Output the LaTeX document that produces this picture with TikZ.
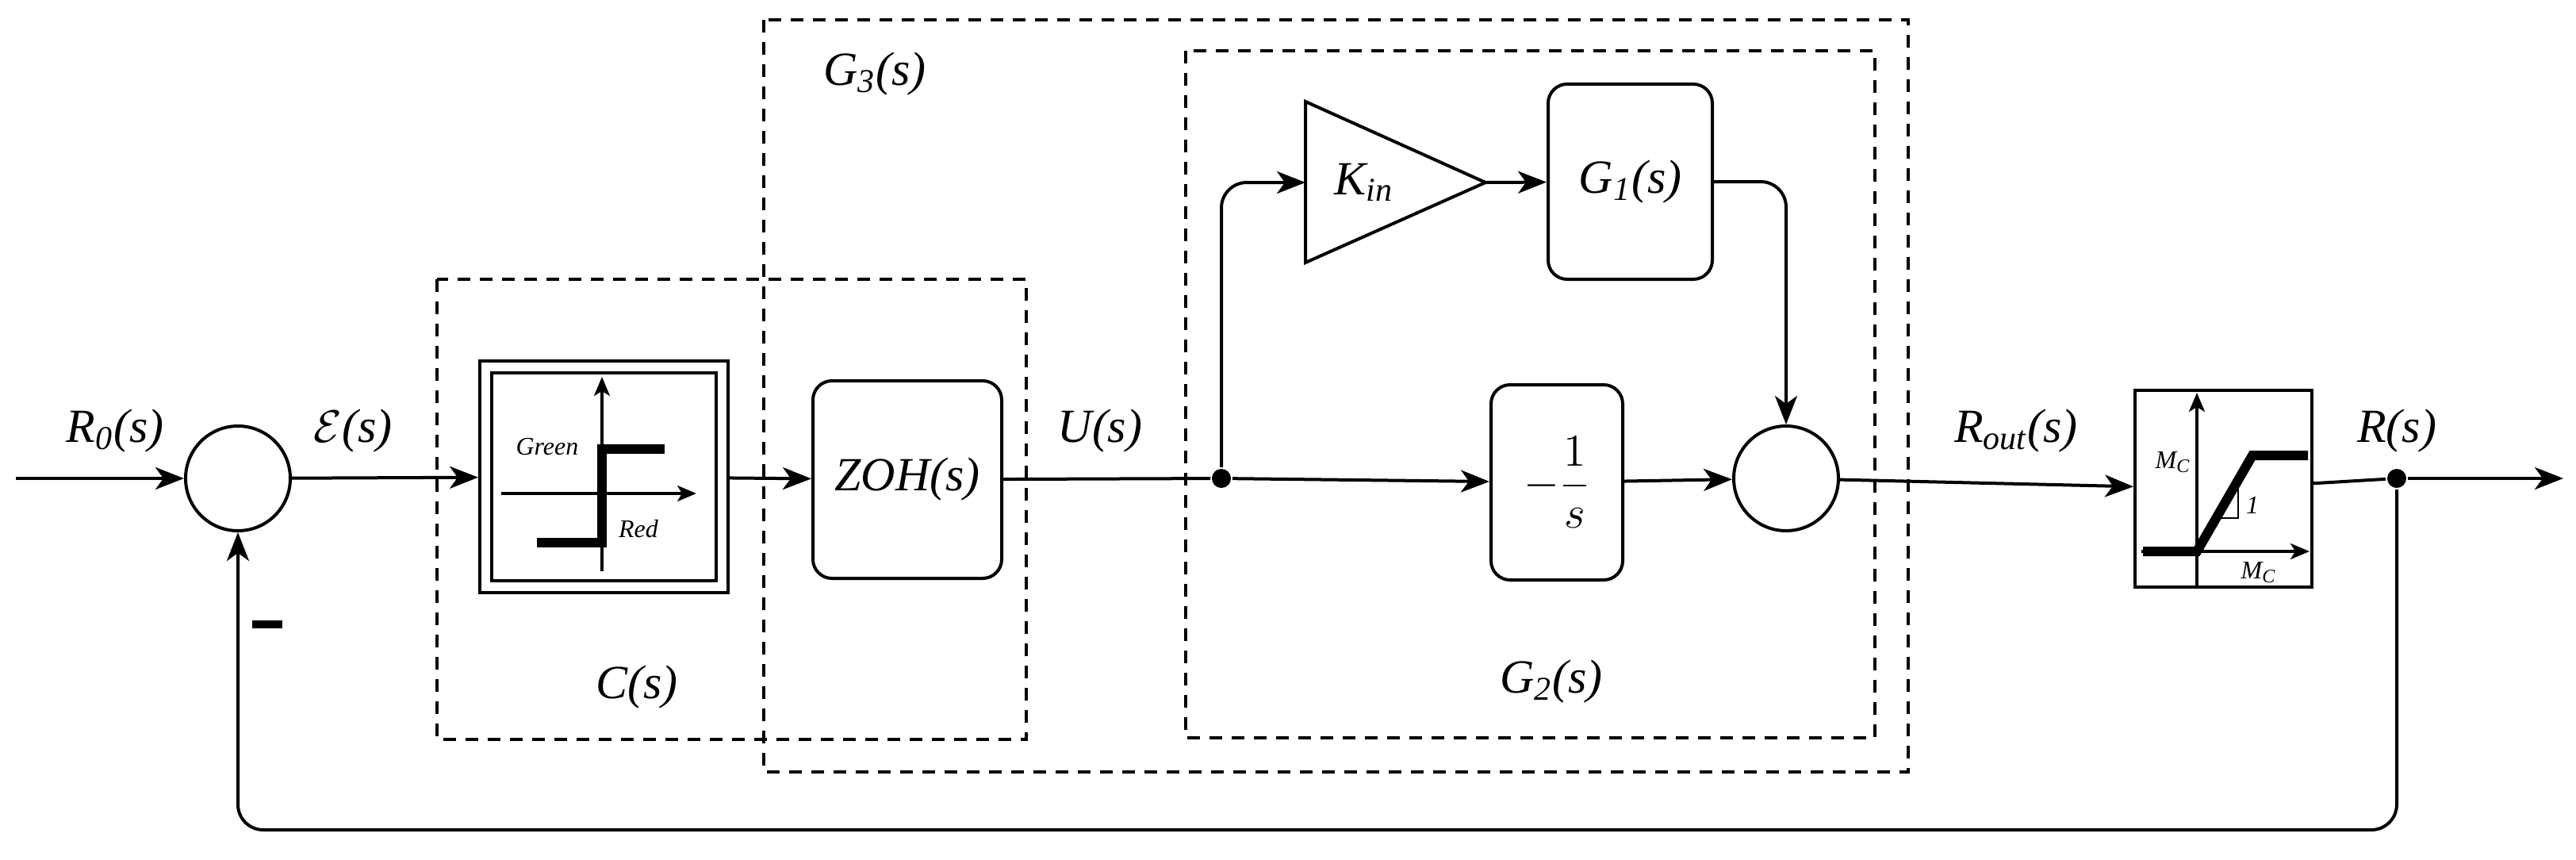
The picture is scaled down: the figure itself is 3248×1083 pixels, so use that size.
\documentclass[tikz,border=0pt]{standalone}
\usepackage{fontspec}
\setmainfont{Liberation Serif}
\usetikzlibrary{arrows.meta}
\begin{document}
\begin{tikzpicture}[x=0.25pt,y=-0.25pt,
  line width=1pt,
  arr/.style={-{Stealth[length=9pt,width=7pt,inset=2.5pt]}},
  sarr/.style={-{Stealth[length=6pt,width=5pt,inset=1.5pt]}},
  blk/.style={draw,rounded corners=6pt,inner sep=0pt},
  dbox/.style={draw,dashed,line width=0.8pt,dash pattern=on 4pt off 3pt},
  lbl/.style={font=\fontsize{15}{18}\selectfont\itshape},
  thick line/.style={line width=3pt}]
\useasboundingbox (0,0) rectangle (3248,1083);
% dashed frames
\draw[dbox] (551,352) rectangle (1294,932);
\draw[dbox] (963,25) rectangle (2406,973);
\draw[dbox] (1495,64) rectangle (2364,930);
\node[lbl] (c3) at (1103,93) {G\textsubscript{3}(s)};
\node[lbl] (cc) at (803,866) {C(s)};
\node[lbl] (c2) at (1956,859) {G\textsubscript{2}(s)};
% nodes
\coordinate (in) at (20,603);
\node[draw,circle,minimum size=33pt,inner sep=0pt] (s1) at (300,603) {};
\node[draw,minimum width=78.25pt,minimum height=73pt,inner sep=0pt] (hy) at (761.5,601) {};
\draw (620,470) rectangle (903,732);
\node[blk,minimum width=59.5pt,minimum height=62.25pt] (zoh) at (1144,604.5) {\fontsize{15}{18}\selectfont\itshape ZOH(s)};
\node[fill,circle,inner sep=0pt,minimum size=6pt] (j) at (1540,603) {};
\coordinate (tri) at (1646,230);
\draw (1646,128) -- (1873,230) -- (1646,331) -- cycle;
\node[lbl] (kin) at (1720,230) {K\textsubscript{in}};
\coordinate (triout) at (1873,230);
\node[blk,minimum width=51.75pt,minimum height=61.5pt] (g1) at (2055.5,229) {\fontsize{15}{18}\selectfont\itshape G\textsubscript{1}(s)};
\node[blk,minimum width=41.5pt,minimum height=61.5pt] (g2) at (1963,608) {\fontsize{15}{18}\selectfont $\displaystyle-\frac{1}{s}$};
\node[draw,circle,minimum size=33pt,inner sep=0pt] (s2) at (2252,603) {};
\node[draw,minimum width=55.75pt,minimum height=62pt,inner sep=0pt] (sat) at (2803.5,616) {};
\node[fill,circle,inner sep=0pt,minimum size=6pt] (j2) at (3022,603) {};
\coordinate (out) at (3232,603);
\coordinate (fb) at (3022,1046);
\coordinate (fb2) at (300,1046);
% hysteresis drawing
\draw[sarr,line width=0.8pt] (759,720) -- (759,475);
\draw[sarr,line width=0.8pt] (632,622) -- (878,622);
\draw[thick line] (677,684) -- (759,684) -- (759,566) -- (838,566);
\node[font=\fontsize{8}{9}\selectfont\itshape] at (690,563) {Green};
\node[font=\fontsize{8}{9}\selectfont\itshape] at (805,667) {Red};
% saturation drawing
\draw[sarr,line width=0.8pt] (2770,740) -- (2770,495);
\draw[sarr,line width=0.8pt] (2700,695) -- (2912,695);
\draw[thick line] (2702,695) -- (2770,695) -- (2840,574) -- (2910,574);
\draw[line width=0.7pt] (2800,653) -- (2822,653) -- (2822,613);
\node[font=\fontsize{8}{9}\selectfont\itshape] at (2840,637) {1};
\node[font=\fontsize{8}{9}\selectfont\itshape] at (2740,583) {M\textsubscript{C}};
\node[font=\fontsize{8}{9}\selectfont\itshape] at (2848,722) {M\textsubscript{C}};
% connectors
\draw[arr] (in) -- (s1);
\draw[arr] (s1) -- (hy);
\draw[arr] (hy) -- (zoh);
\draw (zoh) -- (j);
\draw[arr,rounded corners=8pt] (j) |- (tri);
\draw[arr] (triout) -- (g1);
\draw[arr,rounded corners=8pt] (g1.east) -| (s2.north);
\draw[arr] (j) -- (g2);
\draw[arr] (g2) -- (s2);
\draw[arr] (s2) -- (sat);
\draw (sat) -- (j2);
\draw[arr] (j2) -- (out);
\draw[arr,rounded corners=8pt] (j2) -- (fb) -- (fb2) -- (s1.south);
% labels
\node[lbl] at (145,543) {R\textsubscript{0}(s)};
\node[lbl] at (445,543) {$\mathcal{E}$(s)};
\node[lbl] at (1387,543) {U(s)};
\node[lbl] at (2542,543) {R\textsubscript{out}(s)};
\node[lbl] at (3022,543) {R(s)};
\draw[line width=2.5pt] (318,787) -- (356,787);
\end{tikzpicture}
\end{document}
